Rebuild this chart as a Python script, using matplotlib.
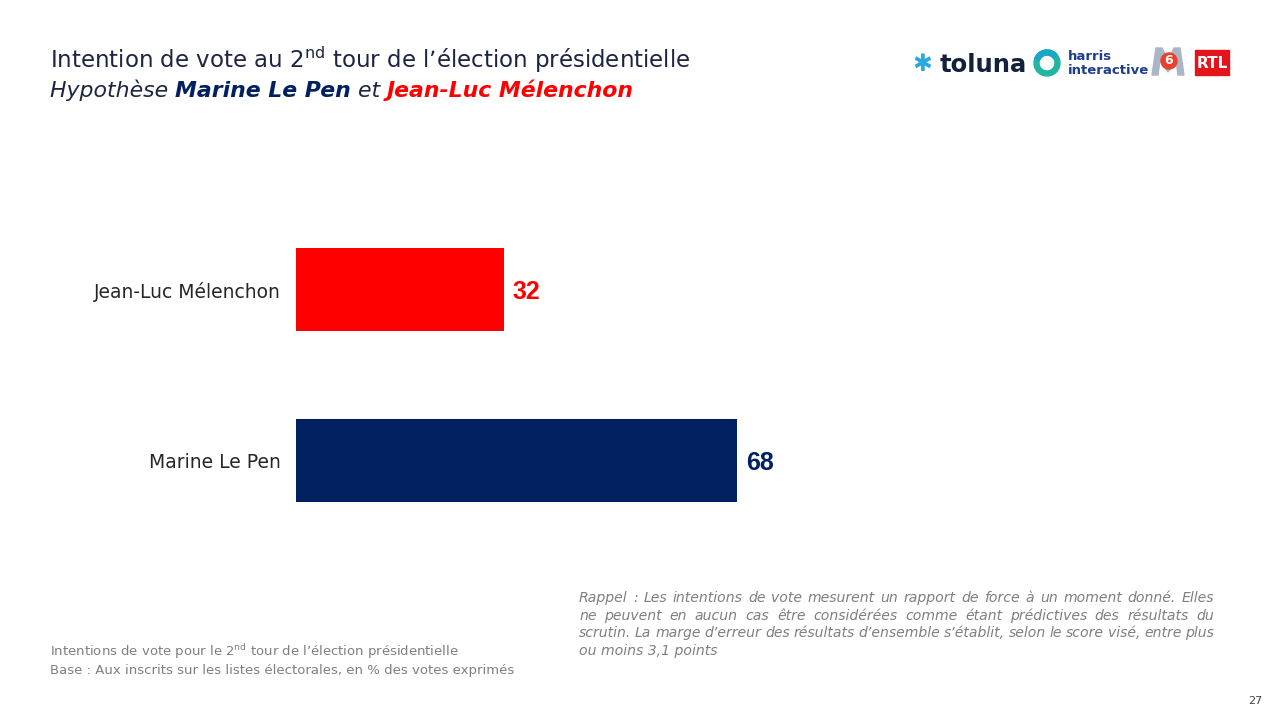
import matplotlib
matplotlib.use("Agg")
import matplotlib.pyplot as plt
from matplotlib.patches import Rectangle, Circle, Wedge, Polygon

# data
candidates = ["Marine Le Pen", "Jean-Luc Mélenchon"]
scores = [68, 32]
bar_colors = ["#002060", "#FF0000"]

title_1 = "Intention de vote au 2$^{\\mathregular{nd}}$ tour de l’élection présidentielle"
note_left = ["Intentions de vote pour le 2$^{\\mathregular{nd}}$ tour de l’élection présidentielle",
             "Base : Aux inscrits sur les listes électorales, en % des votes exprimés"]
note_right = ["Rappel : Les intentions de vote mesurent un rapport de force à un moment donné. Elles",
              "ne peuvent en aucun cas être considérées comme étant prédictives des résultats du",
              "scrutin. La marge d’erreur des résultats d’ensemble s’établit, selon le score visé, entre plus",
              "ou moins 3,1 points"]

W, H = 1280, 720
navy = "#002060"
dark = "#1c2541"
grey = "#7f7f7f"

plt.rcParams['mathtext.default'] = 'regular'
fig = plt.figure(figsize=(12.8, 7.2), dpi=100)
fig.patch.set_facecolor("white")
rend = fig.canvas.get_renderer()


def fx(x):
    return x / W


def fy(y):
    return 1 - y / H


# chart area
ax = fig.add_axes([fx(296), fy(546), 648.5 / W, 342 / H])
ypos = list(range(len(candidates)))
bars = ax.barh(ypos, scores, height=0.485, color=bar_colors)
ax.set_xlim(0, 100)
ax.set_ylim(-0.5, 1.5)
ax.set_yticks(ypos)
ax.set_yticklabels(candidates, fontsize=13.5, color="#262626")
ax.tick_params(axis="y", length=0, pad=11)
ax.set_xticks([])
for s in ax.spines.values():
    s.set_visible(False)
for b, v, c in zip(bars, scores, bar_colors):
    ax.text(b.get_width() + 1.4, b.get_y() + b.get_height() / 2, str(v),
            va="center_baseline", ha="left", fontsize=18, fontweight="bold",
            color=c, family="Liberation Sans")

# title
fig.text(fx(50), fy(68), title_1, fontsize=16.5, color=dark, va="baseline")
pieces = [("Hypothèse ", dark, "normal"),
          ("Marine Le Pen", navy, "bold"),
          (" et ", dark, "normal"),
          ("Jean-Luc Mélenchon", "#FF0000", "bold")]
x = fx(50)
for txt, col, wt in pieces:
    t = fig.text(x, fy(97), txt, fontsize=15.8, color=col, fontweight=wt,
                 style="italic", va="baseline")
    x += t.get_window_extent(rend).width / W

# notes bottom left
fig.text(fx(50), fy(656), note_left[0], fontsize=9.5, color=grey, va="baseline")
fig.text(fx(50), fy(674), note_left[1], fontsize=9.5, color=grey, va="baseline")

# justified note on the right
left, right = 579, 1214
for i, line in enumerate(note_right):
    yb = fy(602 + i * 17.7)
    words = line.split(" ")
    if i == len(note_right) - 1:
        fig.text(fx(left), yb, line, fontsize=10.1, color=grey, style="italic", va="baseline")
        continue
    texts = [fig.text(0, yb, w, fontsize=10.1, color=grey, style="italic", va="baseline")
             for w in words]
    widths = [t.get_window_extent(rend).width for t in texts]
    gap = (right - left - sum(widths)) / (len(words) - 1)
    xx = left
    for t, w in zip(texts, widths):
        t.set_x(fx(xx))
        xx += w + gap

# page number
fig.text(fx(1262), fy(704), "27", fontsize=8, color="#404040", ha="right", va="baseline")

# logos (drawn roughly)
lax = fig.add_axes([0, 0, 1, 1], zorder=5)
lax.set_xlim(0, W)
lax.set_ylim(H, 0)
lax.axis("off")
lax.text(922, 64, "✱", fontsize=17, color="#2aa7e0", ha="center", va="center")
lax.text(940, 72, "toluna", fontsize=17.5, color="#14213d", fontweight="bold",
         va="baseline")
lax.add_patch(Wedge((1047, 63), 13, 0, 360, width=5, color="#22b5a0"))
lax.add_patch(Wedge((1047, 63), 13, 200, 320, width=5, color="#1aa6c8"))
lax.text(1068, 60, "harris", fontsize=9.5, color="#1f3d8f", fontweight="bold",
         va="baseline")
lax.text(1068, 74, "interactive", fontsize=9.5, color="#1f3d8f", fontweight="bold",
         va="baseline")
# M6 mark
lax.add_patch(Polygon([(1152, 75), (1156, 48), (1162, 48), (1168, 60), (1174, 48),
                       (1180, 48), (1184, 75), (1178, 75), (1176, 60), (1168, 72),
                       (1160, 60), (1158, 75)], closed=True, color="#aab5c5"))
lax.add_patch(Circle((1169, 61), 8, color="#e8402a"))
lax.text(1169, 61, "6", fontsize=9, color="white", fontweight="bold",
         ha="center", va="center")
lax.add_patch(Rectangle((1195, 50), 34, 25, color="#e3151a"))
lax.text(1212, 63, "RTL", fontsize=11, color="white", fontweight="bold",
         ha="center", va="center", family="Liberation Sans Narrow")

fig.savefig("out.png", dpi=100)
